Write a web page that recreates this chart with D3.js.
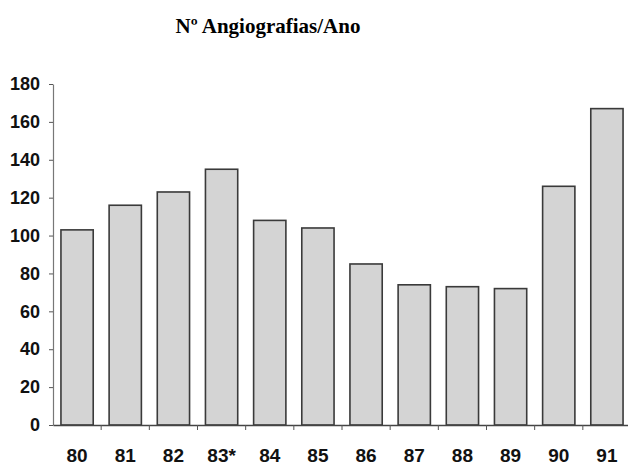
<!DOCTYPE html>
<html>
<head>
<meta charset="utf-8">
<script src="https://cdn.jsdelivr.net/npm/d3@7"></script>
<style>
  body { margin: 0; background: #fff; }
  svg { display: block; }
</style>
</head>
<body>
<svg id="chart" width="628" height="467"></svg>
<script>
const years = ["80", "81", "82", "83*", "84", "85", "86", "87", "88", "89", "90", "91"];
const angiografias = [103, 116, 123, 135, 108, 104, 85, 74, 73, 72, 126, 167];
const yTicks = [0, 20, 40, 60, 80, 100, 120, 140, 160, 180];
const title = "Nº Angiografias/Ano";

const svg = d3.select("#chart");
const margin = { top: 84, left: 53 },
  plotBottom = 425,
  plotRight = 631;

const x = d3.scaleBand()
  .domain(years)
  .range([margin.left, plotRight])
  .paddingInner(0.33)
  .paddingOuter(0.165);

const y = d3.scaleLinear()
  .domain([0, 180])
  .range([plotBottom, margin.top]);

// title
svg.append("text")
  .attr("x", 268).attr("y", 33)
  .attr("text-anchor", "middle")
  .style("font-family", "'Liberation Serif', 'Times New Roman', serif")
  .style("font-weight", "bold")
  .style("font-size", "21px")
  .text(title);

// bars
svg.append("g")
  .selectAll("rect")
  .data(angiografias)
  .join("rect")
  .attr("x", (d, i) => x(years[i]))
  .attr("y", d => y(d))
  .attr("width", x.bandwidth())
  .attr("height", d => plotBottom - y(d))
  .attr("fill", "#d4d4d4")
  .attr("stroke", "#3a3a3a")
  .attr("stroke-width", 1.6);

// y axis
const yAxis = svg.append("g")
  .attr("transform", `translate(${margin.left},0)`)
  .call(d3.axisLeft(y).tickValues(yTicks).tickSize(4).tickSizeOuter(0).tickPadding(9));
yAxis.select(".domain").attr("stroke", "#777").attr("stroke-width", 1.2);
yAxis.selectAll(".tick line").attr("stroke", "#555");
yAxis.selectAll("text")
  .style("font-family", "'Liberation Sans', Arial, sans-serif")
  .style("font-weight", "bold")
  .style("font-size", "18px")
  .attr("fill", "#111");

// x axis with ticks at category boundaries
const xAxis = svg.append("g")
  .attr("transform", `translate(0,${plotBottom})`)
  .call(d3.axisBottom(x).tickSize(0).tickSizeOuter(0).tickPadding(24));
xAxis.select(".domain").attr("stroke", "#444").attr("stroke-width", 1.4);
xAxis.selectAll("text")
  .style("font-family", "'Liberation Sans', Arial, sans-serif")
  .style("font-weight", "bold")
  .style("font-size", "19px")
  .attr("fill", "#111");
xAxis.selectAll(".boundary")
  .data(years.slice(1))
  .join("line")
  .attr("class", "boundary")
  .attr("x1", d => x(d) - x.step() * x.paddingInner() / 2)
  .attr("x2", d => x(d) - x.step() * x.paddingInner() / 2)
  .attr("y1", 0).attr("y2", 5)
  .attr("stroke", "#555");
</script>
</body>
</html>
